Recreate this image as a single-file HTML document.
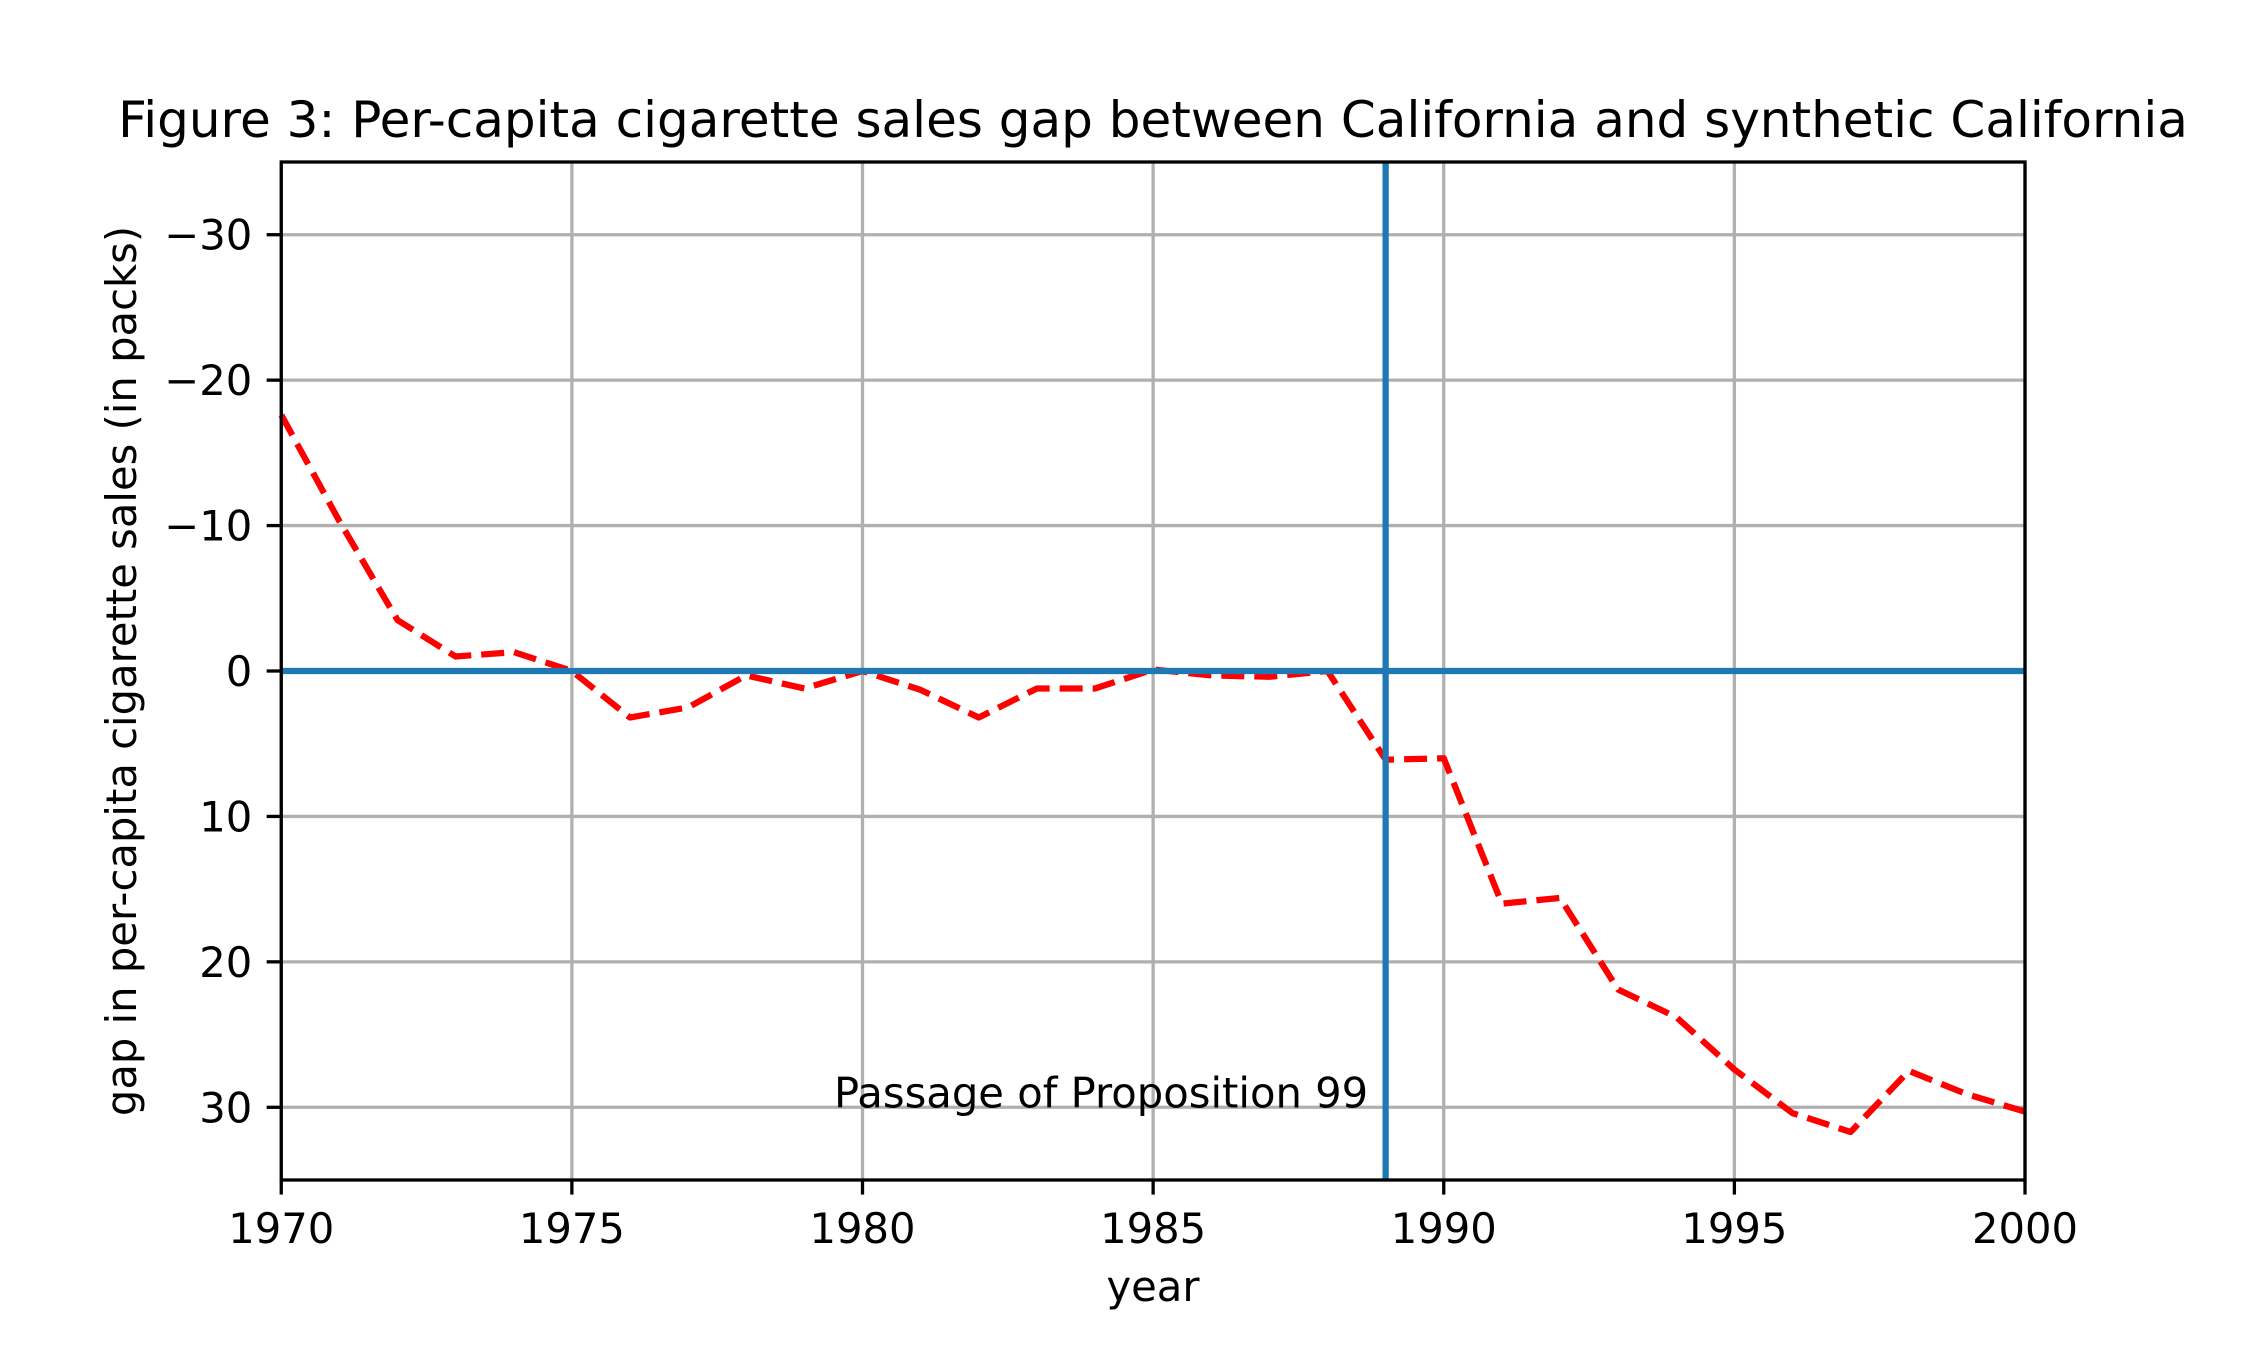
<!DOCTYPE html>
<html><head><meta charset="utf-8"><style>
html,body{margin:0;padding:0;background:#fff;}
svg{display:block;font-family:"DejaVu Sans","Liberation Sans",sans-serif;}
</style></head><body>
<svg id="chart" width="2250" height="1350" viewBox="0 0 2250 1350" xmlns="http://www.w3.org/2000/svg">
<rect width="2250" height="1350" fill="#fff"/>
<g id="grid"></g>
<g id="marks"></g>
<g id="axes"></g>
<text x="1153" y="137" font-size="50" text-anchor="middle">Figure 3: Per-capita cigarette sales gap between California and synthetic California</text>
<text x="1153" y="1301" font-size="41.7" text-anchor="middle">year</text>
<text x="0" y="0" font-size="41.7" text-anchor="middle" transform="translate(136,671) rotate(-90)">gap in per-capita cigarette sales (in packs)</text>
</svg>
<script>
const years = [1970,1971,1972,1973,1974,1975,1976,1977,1978,1979,1980,1981,1982,1983,1984,1985,1986,1987,1988,1989,1990,1991,1992,1993,1994,1995,1996,1997,1998,1999,2000];
const gaps = [-17.6,-10.3,-3.5,-1.0,-1.3,0,3.2,2.5,0.3,1.2,0,1.3,3.2,1.2,1.2,-0.1,0.3,0.4,0,6.1,6.0,16.0,15.6,21.9,23.8,27.4,30.4,31.7,27.5,29.1,30.3];
const xTicks = [1970,1975,1980,1985,1990,1995,2000];
const yTicks = [-30,-20,-10,0,10,20,30];
const xDomain = [1970,2000];
const yDomain = [-35,35];
const treatmentYear = 1989;
const annotation = {year:1988.7, value:30, text:"Passage of Proposition 99"};

const L=281.25,R=2025,T=162,B=1180;
const NS="http://www.w3.org/2000/svg";
const xs=v=>L+(v-xDomain[0])/(xDomain[1]-xDomain[0])*(R-L);
const ys=v=>T+(v-yDomain[0])/(yDomain[1]-yDomain[0])*(B-T);
function mk(tag,attrs,parent){const e=document.createElementNS(NS,tag);for(const k in attrs)e.setAttribute(k,attrs[k]);parent.appendChild(e);return e;}
const grid=document.getElementById('grid'),marks=document.getElementById('marks'),axes=document.getElementById('axes');
xTicks.forEach(t=>{
  const g=mk('line',{x1:xs(t),x2:xs(t),y1:T,y2:B,stroke:'#b0b0b0','stroke-width':3.3},grid);
  
  
  const tk=mk('line',{x1:xs(t),x2:xs(t),y1:B,y2:B+14.6,stroke:'#000','stroke-width':3.3},axes);
  
  
  const tx=mk('text',{x:xs(t),y:B+63,'font-size':41.7,'text-anchor':'middle'},axes);
  tx.textContent=t;
  
  
});
yTicks.forEach(t=>{
  const g=mk('line',{x1:L,x2:R,y1:ys(t),y2:ys(t),stroke:'#b0b0b0','stroke-width':3.3},grid);
  
  
  const tk=mk('line',{x1:L-14.6,x2:L,y1:ys(t),y2:ys(t),stroke:'#000','stroke-width':3.3},axes);
  
  
  const tx=mk('text',{x:L-29,y:ys(t)+15,'font-size':41.7,'text-anchor':'end'},axes);
  tx.textContent=(t<0?'\u2212'+(-t):String(t));
  
  
});
const pts=years.map((y,i)=>xs(y).toFixed(1)+','+ys(gaps[i]).toFixed(1)).join(' ');
const line=mk('polyline',{points:pts,fill:'none',stroke:'#ff0000','stroke-width':6.25,'stroke-dasharray':'23 10','stroke-linejoin':'round'},marks);


const h=mk('line',{x1:L,x2:R,y1:ys(0),y2:ys(0),stroke:'#1f77b4','stroke-width':6.25},marks);


const v=mk('line',{x1:xs(treatmentYear),x2:xs(treatmentYear),y1:T,y2:B,stroke:'#1f77b4','stroke-width':6.25},marks);


const an=mk('text',{x:xs(annotation.year),y:ys(annotation.value),'font-size':41.7,'text-anchor':'end'},marks);
an.textContent=annotation.text;


const fr=mk('rect',{x:L,y:T,width:R-L,height:B-T,fill:'none',stroke:'#000','stroke-width':3.3},axes);


</script>
</body></html>
